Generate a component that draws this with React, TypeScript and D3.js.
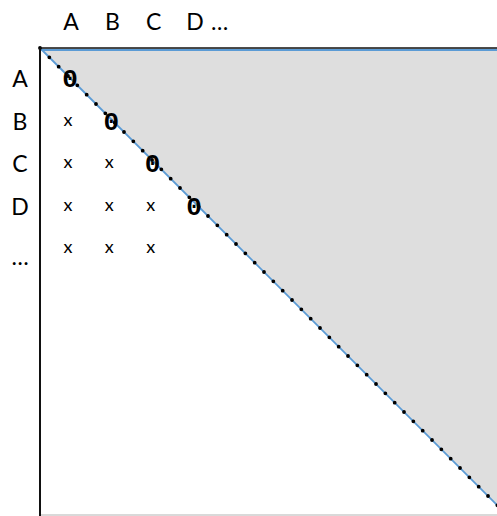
import * as d3 from 'd3';

const W = 497;
const H = 516;

// matrix headings
const columns = ['A', 'B', 'C', 'D'];
const rows = ['A', 'B', 'C', 'D', '…'];
// cells on the diagonal get a "0"
const diagonal = ['A', 'B', 'C', 'D'];
// cells below the diagonal get an "x"
const crosses: [string, string][] = [
  ['B', 'A'],
  ['C', 'A'], ['C', 'B'],
  ['D', 'A'], ['D', 'B'], ['D', 'C'],
  ['…', 'A'], ['…', 'B'], ['…', 'C'],
];

const LABEL_FONT = 'Lato, "Open Sans", sans-serif';
const MONO_FONT = '"Liberation Mono", "DejaVu Sans Mono", monospace';

export default function App() {
  const col = d3.scalePoint<string>().domain(columns).range([71, 195]);
  const row = d3.scalePoint<string>().domain(rows).range([78, 248]);

  // unit square of the plot area, runs past the right/bottom edge
  const px = d3.scaleLinear().domain([0, 1]).range([40, 510]);
  const py = d3.scaleLinear().domain([0, 1]).range([48, 518]);

  const tri = d3.line<[number, number]>().x(d => px(d[0])).y(d => py(d[1]));
  const upper: [number, number][] = [[0, 0], [1, 0], [1, 1]];
  const lastCol = columns[columns.length - 1];

  return (
    <div style={{ position: 'absolute', left: 0, top: 0 }}>
      <svg width={W} height={H} style={{ display: 'block', background: '#fff' }}>
        <path d={tri(upper) + 'Z'} fill="#dedede" />
        {/* top edge of triangle */}
        <line x1={px(0)} x2={W} y1={py(0) + 2} y2={py(0) + 2} stroke="#5b9bd5" strokeWidth={2} />
        {/* diagonal */}
        <line x1={px(0)} y1={py(0)} x2={px(1)} y2={py(1)} stroke="#5b9bd5" strokeWidth={1.8} />
        <line x1={px(0)} y1={py(0)} x2={px(1)} y2={py(1)} stroke="#000" strokeWidth={3.8}
          strokeLinecap="round" strokeDasharray="0 13.2" />
        {/* frame */}
        <line x1={px(0)} x2={W} y1={py(0)} y2={py(0)} stroke="#111" strokeWidth={1.6} />
        <line x1={px(0)} x2={px(0)} y1={py(0)} y2={H} stroke="#111" strokeWidth={2} />
        <line x1={px(0) + 1} x2={W} y1={515} y2={515} stroke="#d9d9d9" strokeWidth={2} />

        {/* column headings */}
        {columns.map(c => (
          <text key={'c' + c} x={col(c)} y={30} textAnchor="middle"
            fontFamily={LABEL_FONT} fontSize={23} fill="#000">
            {c}
          </text>
        ))}
        <text x={(col(lastCol) ?? 0) + 16} y={30} textAnchor="start"
          fontFamily={LABEL_FONT} fontSize={23} fill="#000">
          …
        </text>
        {/* row headings */}
        {rows.map(r => (
          <text key={'r' + r} x={20} y={(row(r) ?? 0) + (r === '…' ? 17 : 9)} textAnchor="middle"
            fontFamily={LABEL_FONT} fontSize={23} fill="#000">
            {r}
          </text>
        ))}

        {diagonal.map(d => (
          <text key={'z' + d} x={(col(d) ?? 0) - 1} y={(row(d) ?? 0) + 9} textAnchor="middle"
            fontFamily={MONO_FONT} fontWeight="bold" fontSize={26} fill="#000">
            0
          </text>
        ))}
        {crosses.map(([r, c]) => (
          <text key={'x' + r + c} x={(col(c) ?? 0) - 3} y={(row(r) ?? 0) + 5} textAnchor="middle"
            fontFamily={LABEL_FONT} fontSize={18} fill="#000">
            x
          </text>
        ))}
      </svg>
    </div>
  );
}
